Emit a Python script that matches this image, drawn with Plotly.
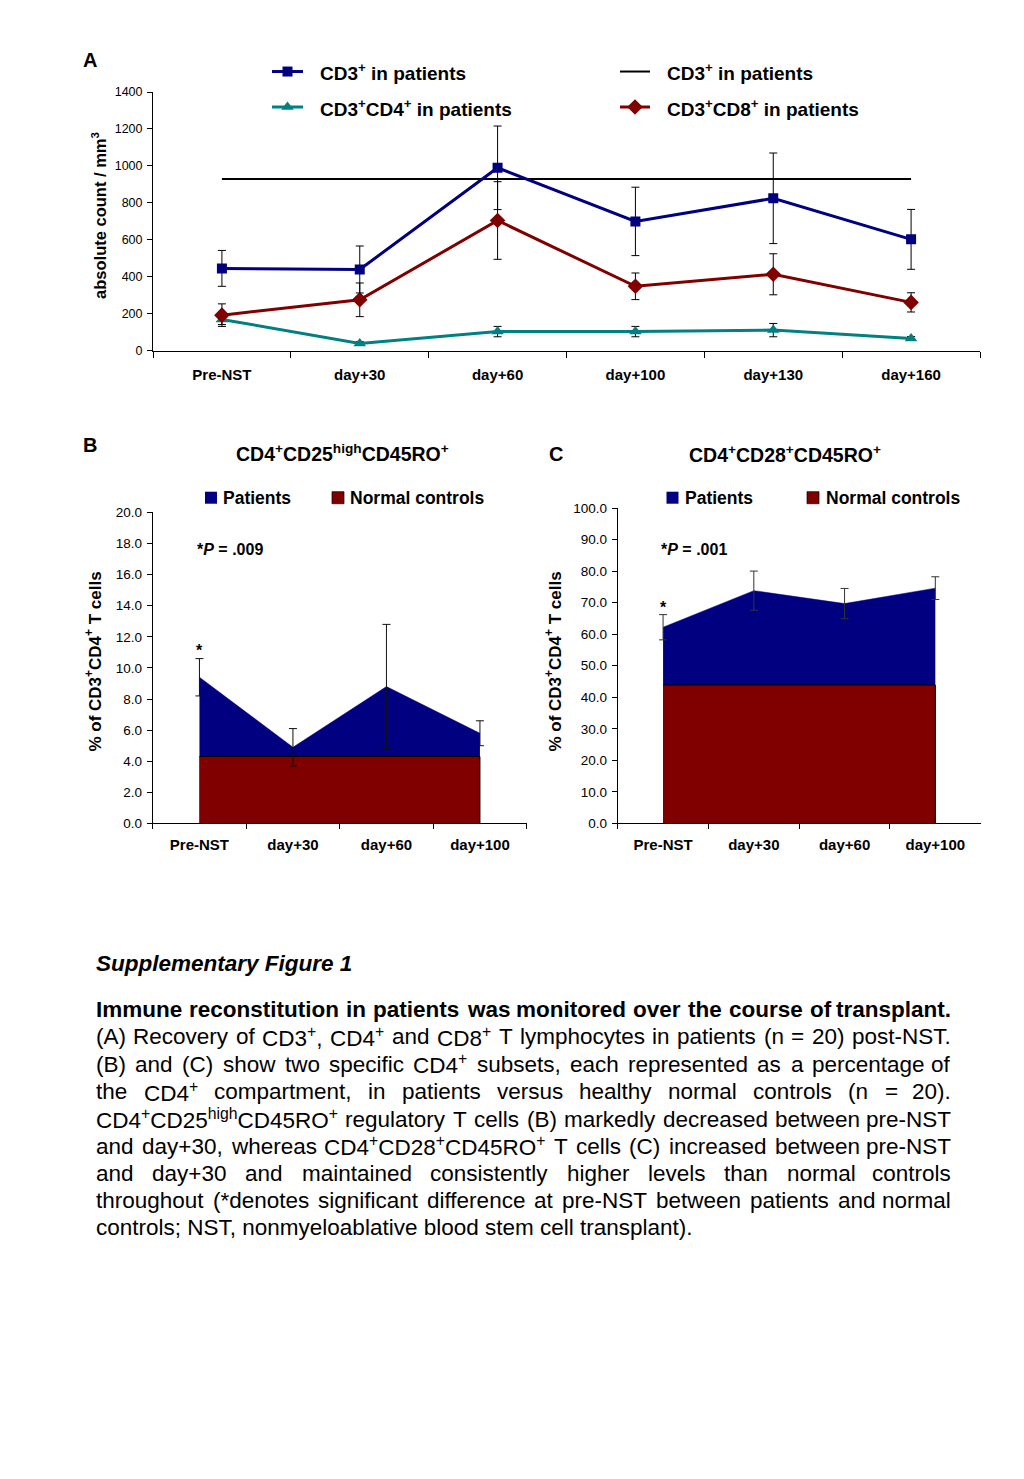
import re
import plotly.graph_objects as go

# Page is 1024x1479; the browser's default 8px body margin surrounds the figure.
PAGE_W, PAGE_H = 1024, 1479
OFF = 8
W, H = PAGE_W - 2 * OFF, PAGE_H - 2 * OFF
FONT = "Liberation Sans, Arial, Helvetica, sans-serif"

# vertical calibration of the photographed page (measured: image_y = 6 + 0.9905 * page_y)
V_A, V_B = 6.0, 0.9905


def Y(t):
    return (t - V_A) / V_B


# ---------------- Panel A data ----------------
a_cats = ["Pre-NST", "day+30", "day+60", "day+100", "day+130", "day+160"]
cd3_pat = [446, 440, 990, 700, 825, 603]
cd3_err = [97, 127, 226, 185, 245, 162]
cd4_pat = [170, 40, 104, 104, 112, 67]
cd4_err = [28, 10, 28, 28, 36, 10]
cd8_pat = [193, 276, 705, 349, 414, 262]
cd8_err = [61, 91, 210, 72, 111, 52]
cd3_norm = [930, 930, 930, 930, 930, 930]
a_yticks = [0, 200, 400, 600, 800, 1000, 1200, 1400]

# ---------------- Panel B data ----------------
b_cats = ["Pre-NST", "day+30", "day+60", "day+100"]
b_pat = [9.4, 4.9, 8.8, 5.8]
b_err = [1.2, 1.2, 4.0, 0.8]
b_ctrl = [4.3, 4.3, 4.3, 4.3]
b_yticks = [0, 2, 4, 6, 8, 10, 12, 14, 16, 18, 20]

# ---------------- Panel C data ----------------
c_cats = ["Pre-NST", "day+30", "day+60", "day+100"]
c_pat = [62.2, 73.8, 69.7, 74.6]
c_err = [4.0, 6.2, 4.8, 3.6]
c_ctrl = [43.9, 43.9, 43.9, 43.9]
c_yticks = [0, 10, 20, 30, 40, 50, 60, 70, 80, 90, 100]

NAVY = "#000080"
TEAL = "#008080"
DRED = "#800000"


def px_dom_x(a, b):
    return [(a - OFF) / W, (b - OFF) / W]


def px_dom_y(top, bottom):
    top, bottom = Y(top), Y(bottom)
    return [(H - (bottom - OFF)) / H, (H - (top - OFF)) / H]


fig = go.Figure()

# ---- Panel A traces
fig.add_trace(go.Scatter(x=a_cats, y=cd3_norm, mode="lines", line=dict(color="black", width=2),
                         xaxis="x", yaxis="y", showlegend=False))
fig.add_trace(go.Scatter(x=a_cats, y=cd4_pat, mode="lines+markers",
                         line=dict(color=TEAL, width=3),
                         marker=dict(symbol="triangle-up", size=11, color=TEAL),
                         error_y=dict(type="data", array=cd4_err, color="black", thickness=1, width=4),
                         xaxis="x", yaxis="y", showlegend=False))
fig.add_trace(go.Scatter(x=a_cats, y=cd8_pat, mode="lines+markers",
                         line=dict(color=DRED, width=3),
                         marker=dict(symbol="diamond", size=12, color=DRED),
                         error_y=dict(type="data", array=cd8_err, color="black", thickness=1, width=4),
                         xaxis="x", yaxis="y", showlegend=False))
fig.add_trace(go.Scatter(x=a_cats, y=cd3_pat, mode="lines+markers",
                         line=dict(color=NAVY, width=3),
                         marker=dict(symbol="square", size=10, color=NAVY),
                         error_y=dict(type="data", array=cd3_err, color="black", thickness=1, width=4),
                         xaxis="x", yaxis="y", showlegend=False))

# ---- Panel B traces
fig.add_trace(go.Scatter(x=b_cats, y=b_pat, mode="lines", fill="tozeroy", fillcolor=NAVY,
                         line=dict(color=NAVY, width=0.5), xaxis="x2", yaxis="y2", showlegend=False))
fig.add_trace(go.Scatter(x=b_cats + b_cats[::-1], y=b_ctrl + [0] * len(b_cats), mode="lines",
                         fill="toself", fillcolor=DRED, line=dict(color="black", width=1),
                         xaxis="x2", yaxis="y2", showlegend=False))
fig.add_trace(go.Scatter(x=b_cats, y=b_pat, mode="markers", marker=dict(size=1, color="rgba(0,0,0,0)"),
                         error_y=dict(type="data", array=b_err, color="#111111", thickness=1, width=4),
                         xaxis="x2", yaxis="y2", showlegend=False))

# ---- Panel C traces
fig.add_trace(go.Scatter(x=c_cats, y=c_pat, mode="lines", fill="tozeroy", fillcolor=NAVY,
                         line=dict(color=NAVY, width=0.5), xaxis="x3", yaxis="y3", showlegend=False))
fig.add_trace(go.Scatter(x=c_cats + c_cats[::-1], y=c_ctrl + [0] * len(c_cats), mode="lines",
                         fill="toself", fillcolor=DRED, line=dict(color="black", width=1),
                         xaxis="x3", yaxis="y3", showlegend=False))
fig.add_trace(go.Scatter(x=c_cats, y=c_pat, mode="markers", marker=dict(size=1, color="rgba(0,0,0,0)"),
                         error_y=dict(type="data", array=c_err, color="#333333", thickness=1, width=4),
                         xaxis="x3", yaxis="y3", showlegend=False))

# ---- Legend keys (overlay axis in page-pixel space)
def key_line(x0, x1, y, color, width):
    fig.add_trace(go.Scatter(x=[x0, x1], y=[Y(y), Y(y)], mode="lines", line=dict(color=color, width=width),
                             xaxis="x4", yaxis="y4", showlegend=False, hoverinfo="skip"))


def key_marker(x, y, symbol, size, color, lw=0):
    fig.add_trace(go.Scatter(x=[x], y=[Y(y)], mode="markers",
                             marker=dict(symbol=symbol, size=size, color=color,
                                         line=dict(color="black", width=lw)),
                             xaxis="x4", yaxis="y4", showlegend=False, hoverinfo="skip"))


key_line(272, 303, 70.5, NAVY, 3)
key_marker(287.5, 70.5, "square", 10, NAVY)
key_line(272, 303, 106, TEAL, 3)
key_marker(287.5, 106, "triangle-up", 11, TEAL)
key_line(620, 650, 70.5, "black", 2)
key_line(620, 650, 106, DRED, 3)
key_marker(635, 106, "diamond", 12, DRED)
key_marker(211, 497, "square", 12, NAVY)
key_marker(338, 497, "square", 12, DRED, 0.7)
key_marker(672.5, 497, "square", 12, NAVY)
key_marker(813, 497, "square", 12, DRED, 0.7)

annotations = []


def txt(x, y, text, size, bold=False, italic=False, xanchor="left", angle=0, color="black"):
    annotations.append(dict(x=x, y=Y(y), xref="x4", yref="y4", text=text, showarrow=False,
                            xanchor=xanchor, yanchor="middle", textangle=angle,
                            font=dict(family=FONT, size=size, color=color,
                                      weight="bold" if bold else "normal",
                                      style="italic" if italic else "normal")))


# Panel labels and titles
txt(90, 59, "A", 20, bold=True, xanchor="center")
txt(90, 444, "B", 20, bold=True, xanchor="center")
txt(556, 453, "C", 20, bold=True, xanchor="center")
txt(342, 452, "CD4<sup>+</sup>CD25<sup>high</sup>CD45RO<sup>+</sup>", 19.5, bold=True, xanchor="center")
txt(785, 453, "CD4<sup>+</sup>CD28<sup>+</sup>CD45RO<sup>+</sup>", 19.5, bold=True, xanchor="center")

# Legend texts
txt(318, 71, "CD3<sup>+</sup> in patients", 19, bold=True)
txt(318, 106.5, "CD3<sup>+</sup>CD4<sup>+</sup> in patients", 19, bold=True)
txt(665, 71, "CD3<sup>+</sup> in patients", 19, bold=True)
txt(665, 106.5, "CD3<sup>+</sup>CD8<sup>+</sup> in patients", 19, bold=True)
txt(221, 497.5, "Patients", 17.5, bold=True)
txt(348, 497.5, "Normal controls", 17.5, bold=True)
txt(683, 497, "Patients", 17.5, bold=True)
txt(824, 497, "Normal controls", 17.5, bold=True)

# Axis titles
txt(99, 215, "absolute count / mm<sup>3</sup>", 16.5, bold=True, xanchor="center", angle=-90)
txt(93, 661, "% of CD3<sup>+</sup>CD4<sup>+</sup> T cells", 17, bold=True, xanchor="center", angle=-90)
txt(553, 661, "% of CD3<sup>+</sup>CD4<sup>+</sup> T cells", 17, bold=True, xanchor="center", angle=-90)

# P-values and asterisks
txt(195, 549, "*<i>P</i> = .009", 16, bold=True)
txt(659, 549, "*<i>P</i> = .001", 16, bold=True)
txt(199.5, 650, "*", 16, bold=True, xanchor="center")
txt(663, 607, "*", 16, bold=True, xanchor="center")

# ---------------- Caption ----------------
REG = {' ': 278, '(': 333, ')': 333, '*': 389, '+': 584, ',': 278, '-': 333, '.': 278, ';': 278, '=': 584,
       '0': 556, '1': 556, '2': 556, '3': 556, '4': 556, '5': 556, '6': 556, '7': 556, '8': 556, '9': 556,
       'A': 667, 'B': 667, 'C': 722, 'D': 722, 'E': 667, 'F': 611, 'G': 778, 'H': 722, 'I': 278, 'N': 722,
       'O': 778, 'P': 667, 'R': 722, 'S': 667, 'T': 611,
       'a': 556, 'b': 556, 'c': 500, 'd': 556, 'e': 556, 'f': 278, 'g': 556, 'h': 556, 'i': 222, 'j': 222,
       'k': 500, 'l': 222, 'm': 833, 'n': 556, 'o': 556, 'p': 556, 'q': 556, 'r': 333, 's': 500, 't': 278,
       'u': 556, 'v': 500, 'w': 722, 'x': 500, 'y': 500, 'z': 500}
BOLD = {' ': 278, '.': 278, ',': 278, 'I': 278,
        'a': 556, 'b': 611, 'c': 556, 'd': 611, 'e': 556, 'f': 333, 'g': 611, 'h': 611, 'i': 278, 'j': 278,
        'k': 556, 'l': 278, 'm': 889, 'n': 611, 'o': 611, 'p': 611, 'q': 611, 'r': 389, 's': 556, 't': 333,
        'u': 611, 'v': 556, 'w': 778, 'x': 556, 'y': 556, 'z': 500}


def width(html, size, bold=False):
    table = BOLD if bold else REG
    total = 0.0
    for part in re.split(r"(<sup>.*?</sup>)", html):
        plain = re.sub(r"<.*?>", "", part)
        f = 0.7 if part.startswith("<sup>") else 1.0
        total += f * sum(table.get(ch, 556) for ch in plain)
    return total * size / 1000.0


CAP_SIZE = 22.5
LEFT, RIGHT = 95, 952

caption_title = "Supplementary Figure 1"
caption_lead = "Immune reconstitution in patients was monitored over the course of transplant."
caption_lines = [
    "(A) Recovery of CD3<sup>+</sup>, CD4<sup>+</sup> and CD8<sup>+</sup> T lymphocytes in patients (n = 20) post-NST.",
    "(B) and (C) show two specific CD4<sup>+</sup> subsets, each represented as a percentage of",
    "the CD4<sup>+</sup> compartment, in patients versus healthy normal controls (n = 20).",
    "CD4<sup>+</sup>CD25<sup>high</sup>CD45RO<sup>+</sup> regulatory T cells (B) markedly decreased between pre-NST",
    "and day+30, whereas CD4<sup>+</sup>CD28<sup>+</sup>CD45RO<sup>+</sup> T cells (C) increased between pre-NST",
    "and day+30 and maintained consistently higher levels than normal controls",
    "throughout (*denotes significant difference at pre-NST between patients and normal",
]
caption_last = "controls; NST, nonmyeloablative blood stem cell transplant)."
line_y = [1036.5, 1064, 1091.5, 1119, 1146, 1173.5, 1200.5]


def justified(line, y, bold=False):
    words = line.split(" ")
    ws = [width(w, CAP_SIZE, bold) for w in words]
    gap = (RIGHT - LEFT - sum(ws)) / (len(words) - 1)
    x = LEFT
    for i, (w, wd) in enumerate(zip(words, ws)):
        if i == len(words) - 1:
            txt(RIGHT + 1, y, w, CAP_SIZE, bold=bold, xanchor="right")
        else:
            txt(x - 1, y, w, CAP_SIZE, bold=bold)
        x += wd + gap


txt(LEFT - 1, 963.5, caption_title, CAP_SIZE, bold=True, italic=True)
justified(caption_lead, 1009, bold=True)
for ln, yy in zip(caption_lines, line_y):
    justified(ln, yy)
txt(LEFT - 1, 1227, caption_last, CAP_SIZE)

axis_common = dict(showline=True, linecolor="black", linewidth=1, ticks="outside", tickcolor="black",
                   tickwidth=1, showgrid=False, zeroline=False, fixedrange=True)

fig.update_layout(
    width=W, height=H, margin=dict(l=0, r=0, t=0, b=0),
    paper_bgcolor="white", plot_bgcolor="rgba(0,0,0,0)",
    font=dict(family=FONT, color="black"),
    showlegend=False,
    annotations=annotations,
    xaxis=dict(domain=px_dom_x(153, 980), anchor="y", type="category", range=[-0.5, 5.5],
               tickson="boundaries", ticklen=6, ticklabelstandoff=10,
               tickfont=dict(size=15, weight="bold"), **axis_common),
    yaxis=dict(domain=px_dom_y(91, 350), anchor="x", range=[0, 1400], tickvals=a_yticks, ticklen=5,
               tickfont=dict(size=12.5), ticklabelstandoff=2, **axis_common),
    xaxis2=dict(domain=px_dom_x(152.7, 526.7), anchor="y2", type="category", range=[-0.5, 3.5],
                tickson="boundaries", ticklen=5, ticklabelstandoff=8,
                tickfont=dict(size=15, weight="bold"), **axis_common),
    yaxis2=dict(domain=px_dom_y(511.7, 823), anchor="x2", range=[0, 20], tickvals=b_yticks,
                tickformat=".1f", ticklen=5, tickfont=dict(size=13.5), ticklabelstandoff=2, **axis_common),
    xaxis3=dict(domain=px_dom_x(617.7, 980.7), anchor="y3", type="category", range=[-0.5, 3.5],
                tickson="boundaries", ticklen=5, ticklabelstandoff=8,
                tickfont=dict(size=15, weight="bold"), **axis_common),
    yaxis3=dict(domain=px_dom_y(507.3, 823), anchor="x3", range=[0, 100], tickvals=c_yticks,
                tickformat=".1f", ticklen=5, tickfont=dict(size=13.5), ticklabelstandoff=2, **axis_common),
    xaxis4=dict(domain=[0, 1], anchor="y4", range=[OFF, OFF + W], visible=False, fixedrange=True),
    yaxis4=dict(domain=[0, 1], anchor="x4", range=[OFF + H, OFF], visible=False, fixedrange=True),
)

fig.write_html("out.html", config={"displayModeBar": False})
